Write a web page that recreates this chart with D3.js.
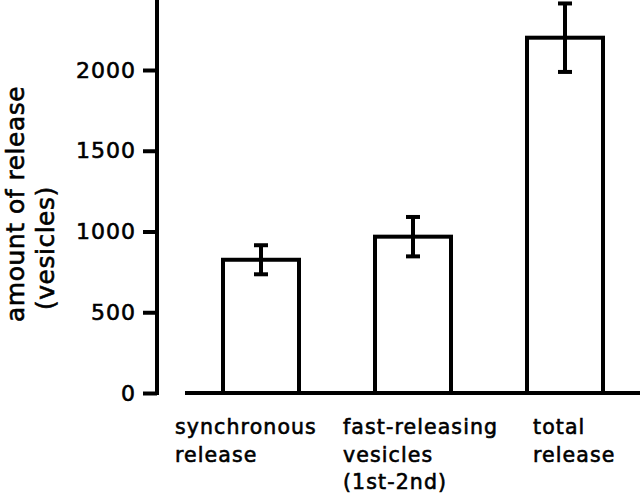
<!DOCTYPE html>
<html><head><meta charset="utf-8">
<script src="https://cdn.jsdelivr.net/npm/d3@7"></script>
<style>body{margin:0;background:#fff}svg{display:block}text{font-family:"DejaVu Sans",sans-serif;fill:#000;stroke:#000;stroke-width:0.6px}</style>
</head><body><svg id="c" width="640" height="494"></svg>
<script>
const categories = [["synchronous","release"],["fast-releasing","vesicles","(1st-2nd)"],["total","release"]];
const values = [825, 968, 2200];
const errors = [90, 122, 212];
const yTicks = [0, 500, 1000, 1500, 2000];
const yTitle = ["amount of release", "(vesicles)"];

const svg = d3.select("#c");
const x = d3.scaleBand().domain(d3.range(categories.length)).range([185, 641]).paddingInner(0.5).paddingOuter(0.25);
const y = d3.scaleLinear().domain([0, 2000]).range([393, 70]);

// bars
svg.selectAll("rect.bar").data(values).enter().append("rect")
  .attr("x", (d,i)=>x(i)).attr("y", d=>y(d))
  .attr("width", x.bandwidth()).attr("height", d=>y(0)-y(d))
  .attr("fill","#fff").attr("stroke","#000").attr("stroke-width",4);

// error bars
const eg = svg.selectAll("g.err").data(values).enter().append("g");
eg.append("line").attr("x1",(d,i)=>x(i)+x.bandwidth()/2).attr("x2",(d,i)=>x(i)+x.bandwidth()/2)
  .attr("y1",(d,i)=>y(d+errors[i])).attr("y2",(d,i)=>y(d-errors[i])).attr("stroke","#000").attr("stroke-width",4);
[1,-1].forEach(s=>{
  eg.append("line").attr("x1",(d,i)=>x(i)+x.bandwidth()/2-7).attr("x2",(d,i)=>x(i)+x.bandwidth()/2+7)
    .attr("y1",(d,i)=>y(d+s*errors[i])).attr("y2",(d,i)=>y(d+s*errors[i])).attr("stroke","#000").attr("stroke-width",4);
});

// baseline
svg.append("line").attr("x1",185).attr("x2",640).attr("y1",y(0)).attr("y2",y(0)).attr("stroke","#000").attr("stroke-width",4);

// y axis
const ya = svg.append("g").attr("transform","translate(157,0)")
  .call(d3.axisLeft(y).tickValues(yTicks).tickSize(14).tickPadding(8).tickFormat(d3.format("d")));
ya.select(".domain").attr("d","M0,0V395").attr("stroke","#000").attr("stroke-width",4);
ya.selectAll(".tick line").attr("stroke","#000").attr("stroke-width",4);
ya.selectAll(".tick text").attr("font-size",22).attr("font-family","DejaVu Sans").attr("fill","#000")
  .attr("letter-spacing",1).attr("dx",1);

// category labels
const leftX = [175, 343, 533];
const cl = svg.selectAll("text.cat").data(categories).enter().append("text")
  .attr("class","cat").attr("font-size",20.5).attr("letter-spacing",1.1)
  .attr("x",(d,i)=>leftX[i]).attr("y",434);
cl.selectAll("tspan").data(d=>d).enter().append("tspan")
  .attr("x",function(){return this.parentNode.getAttribute("x");})
  .attr("dy",(d,j)=>j===0?0:27.5).text(d=>d);

// y title
svg.append("text").attr("font-size",25).attr("letter-spacing",0.5).attr("transform","translate(24,322) rotate(-90)").text(yTitle[0]);
svg.append("text").attr("font-size",25).attr("letter-spacing",0.5).attr("transform","translate(54,310) rotate(-90)").text(yTitle[1]);
</script></body></html>
